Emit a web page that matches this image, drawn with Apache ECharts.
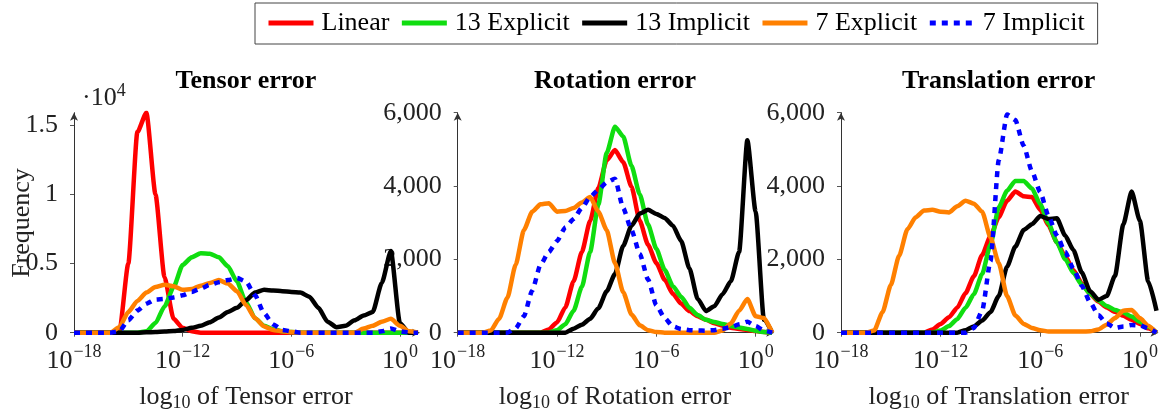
<!DOCTYPE html>
<html>
<head>
<meta charset="utf-8">
<script src="https://cdn.jsdelivr.net/npm/echarts@6/dist/echarts.min.js"></script>
<style>
html,body{margin:0;padding:0;background:#fff;}
#chart{width:1161px;height:416px;}
</style>
</head>
<body>
<div id="chart"></div>
<script>
// log10 of error (x positions shared by all series)
const xs = [-18,-17.5,-17,-16.5,-16,-15.5,-15,-14.5,-14,-13.5,-13,-12.5,-12,-11.5,-11,-10.5,-10,-9.5,-9,-8.5,-8,-7.5,-7,-6.5,-6,-5.5,-5,-4.5,-4,-3.5,-3,-2.5,-2,-1.5,-1,-0.5,0,0.5,1];

const seriesNames = ['Linear','13 Explicit','13 Implicit','7 Explicit','7 Implicit'];
const panelTitles = ['Tensor error','Rotation error','Translation error'];
const xAxisNames = ['Tensor error','Rotation error','Translation error'];
const xTickValues = [-18,-12,-6,0];
const yTicks1 = [0,5000,10000,15000];
const yTicks23 = [0,2000,4000,6000];

// Tensor error
const tensorLinear    = [0,0,0,0,0,0,5000,14500,15900,10000,4000,1000,350,100,0,0,0,0,0,0,0,0,0,0,0,0,0,0,0,0,0,0,0,0,0,0,0,0,0];
const tensor13Exp     = [0,0,0,0,0,0,0,0,100,700,1900,3300,4900,5450,5750,5700,5450,4800,3700,2200,1050,500,250,100,50,0,0,0,0,0,0,0,0,0,0,0,0,0,0];
const tensor13Imp     = [0,0,0,0,0,0,0,0,30,50,80,120,200,350,500,750,1100,1500,1800,2350,2900,3100,3050,3000,2950,2900,2600,1800,800,400,500,900,1250,1500,3600,5900,700,0,0];
const tensor7Exp      = [0,0,0,0,0,400,1500,2300,2900,3300,3470,3350,3100,3150,3400,3600,3800,3550,3000,2000,1050,450,200,100,50,0,0,0,0,0,0,0,300,500,800,1000,500,100,0];
const tensor7Imp      = [0,0,0,0,0,100,900,1600,2100,2400,2450,2550,2700,2950,3200,3450,3650,3800,3950,3700,2700,1400,600,200,100,0,0,0,0,0,0,0,0,0,100,300,100,0,0];

// Rotation error
const rotLinear       = [0,0,0,0,0,0,0,0,0,0,0,90,280,690,1400,2200,3050,3950,4700,4980,4650,3980,3050,2400,1900,1450,1060,790,590,450,350,260,190,135,100,75,45,20,0];
const rot13Exp        = [0,0,0,0,0,0,0,0,0,0,0,0,70,230,600,1250,2200,3500,4900,5620,5350,4550,3770,2950,2290,1720,1270,980,680,480,350,290,240,180,140,100,50,20,0];
const rot13Imp        = [0,0,0,0,0,0,0,0,0,0,0,0,0,0,110,220,380,670,1130,1600,2370,2920,3250,3350,3240,3130,2920,2500,1750,920,590,720,1050,1400,2200,5250,3300,350,0];
const rot7Exp         = [0,0,0,0,60,380,950,1850,2800,3300,3500,3530,3300,3320,3400,3550,3700,3300,2800,1900,1100,500,200,70,20,0,0,0,0,0,0,0,60,250,600,920,450,400,0];
const rot7Imp         = [0,0,0,0,0,0,0,120,450,1150,1850,2200,2500,2870,3100,3400,3700,3900,4100,4200,3400,2800,2150,1450,750,400,170,100,70,60,55,70,110,150,230,300,180,60,0];

// Translation error
const transLinear     = [0,0,0,0,0,0,0,0,0,0,0,90,240,420,680,1080,1540,2120,2630,3150,3600,3850,3720,3700,3350,2920,2470,2090,1700,1350,1060,850,690,570,460,350,240,120,0];
const trans13Exp      = [0,0,0,0,0,0,0,0,0,0,0,0,60,180,370,680,1050,1600,2400,3420,3870,4140,4140,3930,3500,2980,2460,2010,1630,1310,1070,880,730,620,550,440,300,160,0];
const trans13Imp      = [0,0,0,0,0,0,0,0,0,0,0,0,0,0,0,70,170,330,560,1000,1800,2350,2800,2960,3180,3100,3120,2650,2250,1640,1130,900,1000,1550,2950,3850,3050,1400,600];
const trans7Exp       = [0,0,0,0,60,560,1300,2100,2820,3150,3330,3350,3300,3280,3450,3600,3520,3300,2600,1900,1000,470,240,130,70,30,30,30,30,30,40,90,220,400,600,620,400,190,0];
const trans7Imp       = [0,0,0,0,0,0,0,0,0,0,0,0,0,0,0,0,130,600,1950,4700,5950,5800,5100,4400,3830,3180,2650,2200,1740,1280,830,480,250,130,170,210,200,120,0];

const panels = [
  [tensorLinear, tensor13Exp, tensor13Imp, tensor7Exp, tensor7Imp],
  [rotLinear, rot13Exp, rot13Imp, rot7Exp, rot7Imp],
  [transLinear, trans13Exp, trans13Imp, trans7Exp, trans7Imp]
];
const yMax = [15900, 6000, 6000];

const colors = ['#ff0000','#10dd10','#000000','#ff8000','#0000ff'];
const lineTypes = ['solid','solid','solid','solid',[6,6]];
const FONT = 'Liberation Serif';

const grids = [
  {left: 74, top: 112.7, width: 344, height: 220, containLabel: false, outerBoundsMode: 'none'},
  {left: 457.7, top: 112.7, width: 314.5, height: 220, containLabel: false, outerBoundsMode: 'none'},
  {left: 841, top: 112.7, width: 315.5, height: 220, containLabel: false, outerBoundsMode: 'none'}
];

const xAxes = grids.map((g, p) => ({
  type: 'value', gridIndex: p, min: -18, max: 1, interval: 6,
  splitLine: {show: false},
  axisLine: {show: true, onZero: false, symbol: ['none','arrow'], symbolSize: [6, 8], symbolOffset: [0, 2], lineStyle: {color: '#333', width: 1}},
  axisTick: {show: true, length: 4, customValues: xTickValues, lineStyle: {color: '#555'}},
  axisLabel: {
    customValues: xTickValues, margin: 11, color: '#222', fontFamily: FONT,
    formatter: v => '{b|10}{s|' + (v === 0 ? '0' : '\u2212' + (-v)) + '}',
    rich: {
      b: {fontSize: 26, fontFamily: FONT, color: '#222'},
      s: {fontSize: 18, fontFamily: FONT, color: '#222', padding: [0, 0, 16, 1]}
    }
  },
  name: '{t|log}{u|10}{t| of ' + xAxisNames[p] + '}',
  nameLocation: 'middle', nameGap: 48,
  nameTextStyle: {
    rich: {
      t: {fontSize: 26, fontFamily: FONT, color: '#222'},
      u: {fontSize: 18, fontFamily: FONT, color: '#222', padding: [14, 0, 0, 0]}
    }
  }
}));

const yAxes = grids.map((g, p) => ({
  type: 'value', gridIndex: p, min: 0, max: yMax[p],
  interval: p === 0 ? 5000 : 2000,
  splitLine: {show: false},
  axisLine: {show: true, onZero: false, symbol: ['none','arrow'], symbolSize: [6, 8], symbolOffset: [0, 0], lineStyle: {color: '#333', width: 1}},
  axisTick: {show: true, inside: false, length: 4, customValues: p === 0 ? yTicks1 : yTicks23, lineStyle: {color: '#555'}},
  axisLabel: {
    customValues: p === 0 ? yTicks1 : yTicks23,
    margin: 16, fontSize: 26, fontFamily: FONT, color: '#222',
    formatter: v => p === 0 ? String(v / 10000) : (v === 0 ? '0' : (v / 1000) + ',000')
  }
}));

const series = [];
panels.forEach((vals, p) => {
  vals.forEach((arr, k) => {
    series.push({
      name: seriesNames[k], type: 'line', xAxisIndex: p, yAxisIndex: p,
      data: xs.map((x, i) => [x, arr[i]]),
      showSymbol: false, symbol: 'none', smooth: 0.2, smoothMonotone: 'x',
      clip: true,
      lineStyle: {color: colors[k], width: 4.5, type: lineTypes[k], cap: 'butt', join: 'round'},
      itemStyle: {color: colors[k]},
      emphasis: {disabled: true},
      animation: false
    });
  });
});

const chart = echarts.init(document.getElementById('chart'), null, {renderer: 'canvas'});
chart.setOption({
  animation: false,
  backgroundColor: '#fff',
  title: panelTitles.map((t, p) => ({
    text: t, left: grids[p].left + grids[p].width / 2 - 5, top: 63, textAlign: 'center',
    textStyle: {fontFamily: FONT, fontWeight: 'bold', fontSize: 26, color: '#000'}
  })),
  legend: {
    data: seriesNames, left: 255, top: 3,
    itemWidth: 45, itemHeight: 12, itemGap: 10,
    padding: [7, 13, 8, 11],
    borderColor: '#444', borderWidth: 1,
    selectedMode: false,
    itemStyle: {opacity: 0},
    lineStyle: {width: 5},
    textStyle: {fontFamily: FONT, fontSize: 26, color: '#000', padding: [0, 0, 0, 3]}
  },
  grid: grids,
  xAxis: xAxes,
  yAxis: yAxes,
  series: series,
  graphic: [
    {type: 'text', left: 82, top: 82, style: {
      text: '{t|\u00b710}{s|4}',
      rich: {
        t: {fontSize: 26, fontFamily: FONT, fill: '#222'},
        s: {fontSize: 18, fontFamily: FONT, fill: '#222', padding: [0, 0, 14, 0]}
      }
    }},
    {type: 'text', x: 22, y: 223, rotation: Math.PI / 2, style: {
      text: 'Frequency', fontSize: 26, fontFamily: FONT, fill: '#222',
      align: 'center', verticalAlign: 'middle'
    }}
  ]
});
</script>
</body>
</html>
